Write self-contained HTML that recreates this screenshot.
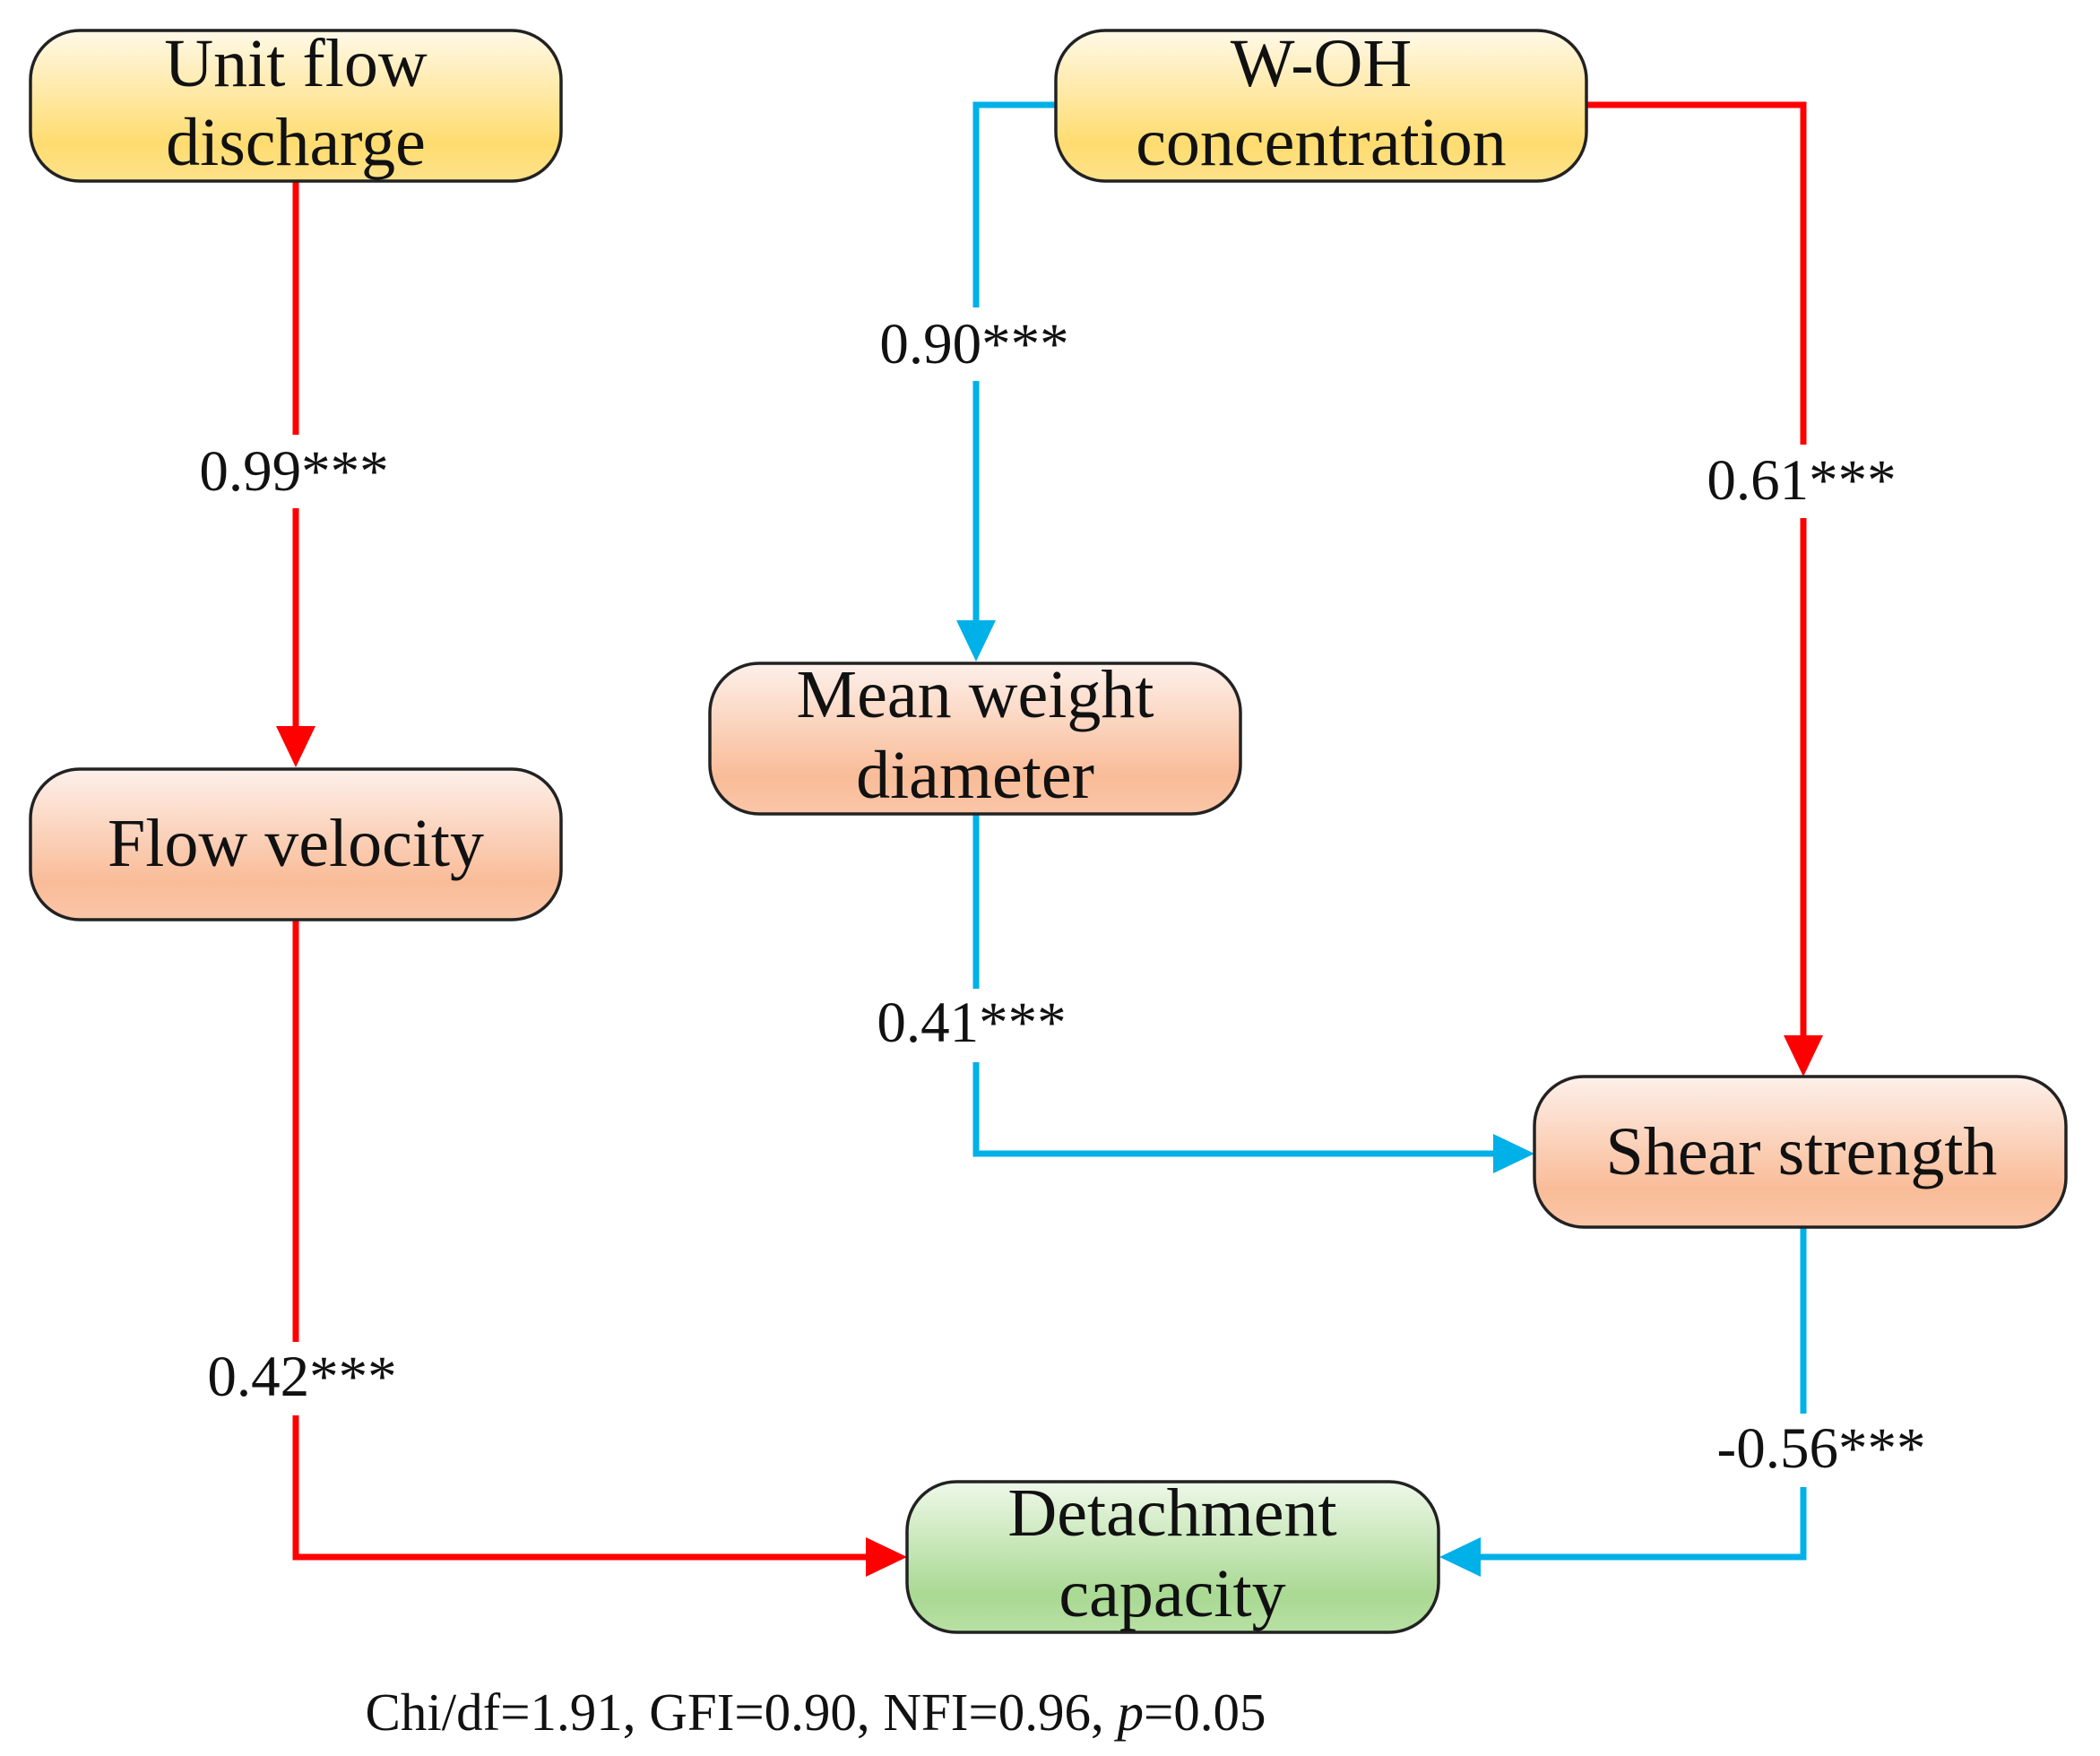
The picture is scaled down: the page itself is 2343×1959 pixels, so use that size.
<!DOCTYPE html>
<html><head><meta charset="utf-8"><style>
html,body{margin:0;padding:0;background:#fff;}
svg{display:block;}
.b{font-family:"Liberation Serif",serif;font-size:76px;fill:#111;text-anchor:middle;}
.l{font-family:"Liberation Serif",serif;font-size:65px;fill:#111;text-anchor:middle;}
</style></head><body>
<svg width="2343" height="1959" viewBox="0 0 2343 1959" xmlns="http://www.w3.org/2000/svg">
<defs>
<linearGradient id="gy" x1="0" y1="0" x2="0" y2="1"><stop offset="0" stop-color="#fff9e8"/><stop offset="0.75" stop-color="#ffdc70"/><stop offset="1" stop-color="#fde28a"/></linearGradient>
<linearGradient id="go" x1="0" y1="0" x2="0" y2="1"><stop offset="0" stop-color="#fdf0ea"/><stop offset="0.75" stop-color="#f9bc98"/><stop offset="1" stop-color="#fac6a8"/></linearGradient>
<linearGradient id="gg" x1="0" y1="0" x2="0" y2="1"><stop offset="0" stop-color="#eef8e8"/><stop offset="0.75" stop-color="#a9d993"/><stop offset="1" stop-color="#b8e0a4"/></linearGradient>
</defs>
<g fill="none" stroke-width="7" stroke-linejoin="miter">
<path d="M330 202 V815" stroke="#ff0000"/>
<path d="M1770 117 H2012 V1160" stroke="#ff0000"/>
<path d="M330 1026 V1737 H970" stroke="#ff0000"/>
<path d="M1178 117 H1089 V697" stroke="#00b0e8"/>
<path d="M1089 906 V1287 H1670" stroke="#00b0e8"/>
<path d="M2012 1367 V1737 H1648" stroke="#00b0e8"/>
</g>
<polygon points="308,810 352,810 330,856" fill="#ff0000"/>
<polygon points="1990,1155 2034,1155 2012,1201" fill="#ff0000"/>
<polygon points="966,1715 966,1759 1012,1737" fill="#ff0000"/>
<polygon points="1067,692 1111,692 1089,738" fill="#00b0e8"/>
<polygon points="1666,1265 1666,1309 1712,1287" fill="#00b0e8"/>
<polygon points="1652,1715 1652,1759 1606,1737" fill="#00b0e8"/>
<g fill="#fff">
<rect x="215" y="485" width="230" height="82"/>
<rect x="970" y="343" width="235" height="82"/>
<rect x="1895" y="496" width="235" height="82"/>
<rect x="970" y="1103" width="235" height="82"/>
<rect x="220" y="1497" width="235" height="82"/>
<rect x="1895" y="1577" width="250" height="82"/>
</g>
<g class="l">
<text x="328" y="547">0.99***</text>
<text x="1087" y="405">0.90***</text>
<text x="2010" y="557">0.61***</text>
<text x="1084" y="1162">0.41***</text>
<text x="337" y="1557">0.42***</text>
<text x="2032" y="1637">-0.56***</text>
</g>
<g stroke="#222" stroke-width="3.5">
<rect x="34" y="34" width="592" height="168" rx="55" fill="url(#gy)"/>
<rect x="1178" y="34" width="592" height="168" rx="55" fill="url(#gy)"/>
<rect x="792" y="740" width="592" height="168" rx="55" fill="url(#go)"/>
<rect x="34" y="858" width="592" height="168" rx="55" fill="url(#go)"/>
<rect x="1712" y="1201" width="593" height="168" rx="55" fill="url(#go)"/>
<rect x="1012" y="1653" width="593" height="168" rx="55" fill="url(#gg)"/>
</g>
<g class="b">
<text x="330" y="96">Unit flow</text>
<text x="330" y="184">discharge</text>
<text x="1474" y="96">W-OH</text>
<text x="1474" y="184">concentration</text>
<text x="1088" y="800">Mean weight</text>
<text x="1088" y="890">diameter</text>
<text x="330" y="966">Flow velocity</text>
<text x="2010" y="1310">Shear strength</text>
<text x="1308" y="1713">Detachment</text>
<text x="1308" y="1803">capacity</text>
</g>
<text x="910" y="1930" font-family="Liberation Serif, serif" font-size="59" fill="#111" text-anchor="middle">Chi/df=1.91, GFI=0.90, NFI=0.96, <tspan font-style="italic">p</tspan>=0.05</text>
</svg>
</body></html>
